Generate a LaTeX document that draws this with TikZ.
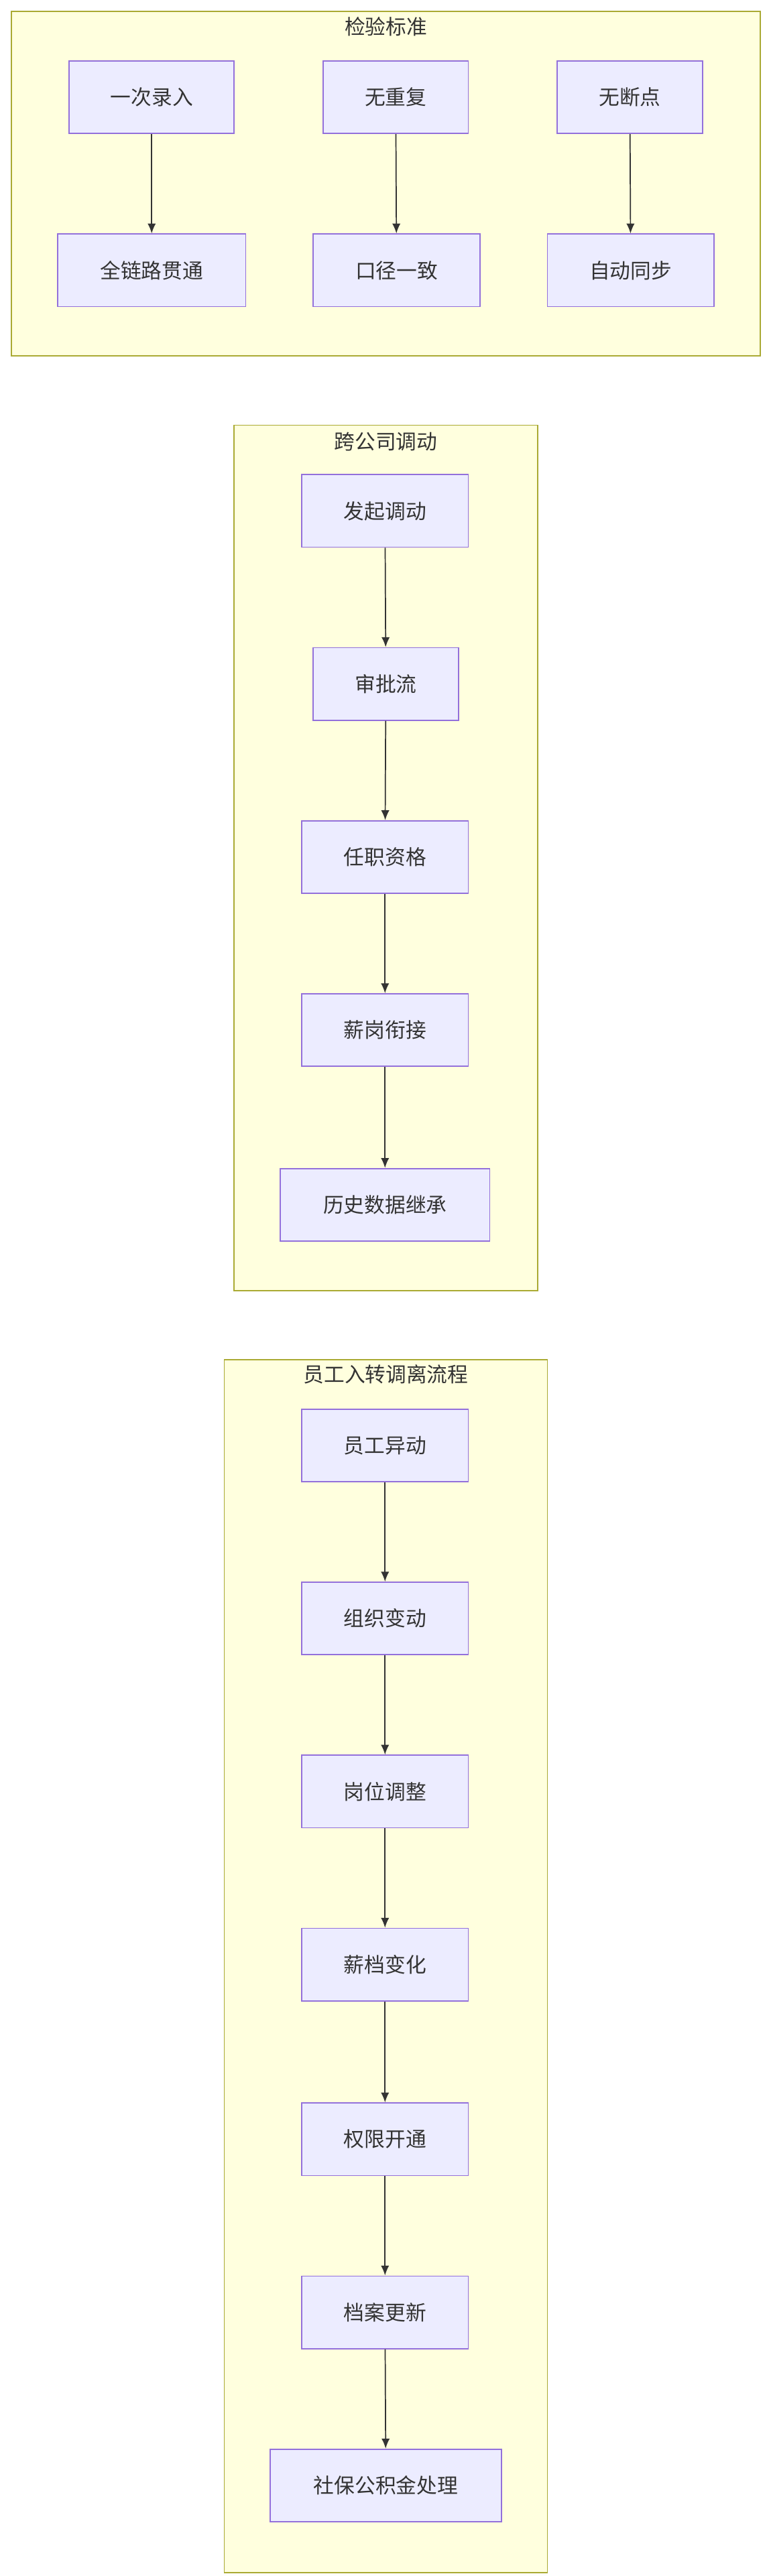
\documentclass[tikz,border=0pt]{standalone}
\usepackage{fontspec}
\setmainfont{Noto Sans CJK SC}
\usetikzlibrary{arrows.meta}
\definecolor{nf}{HTML}{ECECFF}\definecolor{ns}{HTML}{9370DB}
\definecolor{cf}{HTML}{FFFFDE}\definecolor{cs}{HTML}{AAAA33}
\definecolor{tx}{HTML}{333333}
\begin{document}
\begin{tikzpicture}[x=1pt,y=-1pt,
  cl/.style={fill=cf,draw=cs,line width=0.7pt},
  ttl/.style={text=tx,font=\fontsize{12.5}{14}\selectfont,anchor=center},
  nd/.style={fill=nf,draw=ns,line width=0.7pt,text=tx,font=\fontsize{12.5}{14}\selectfont},
  ar/.style={draw=tx,line width=0.7pt,-{Latex[length=6pt,width=5pt]}}]
\useasboundingbox (0,0) rectangle (466,1563);
\newcommand\bx[5]{\node[nd,minimum width=#3-#2,minimum height=44,inner sep=0pt] (#1) at ({(#2+#3)/2},#4+22) {#5};}
% frame 1
\draw[cl] (7,7) rectangle (461,216);
\node[ttl] (t1) at (234,16) {检验标准};
\bx{a1}{42}{142}{37}{一次录入}
\bx{b1}{196}{284}{37}{无重复}
\bx{c1}{338}{426}{37}{无断点}
\bx{a2}{35}{149}{142}{全链路贯通}
\bx{b2}{190}{291}{142}{口径一致}
\bx{c2}{332}{433}{142}{自动同步}
\draw[ar] (a1) -- (a2);
\draw[ar] (b1) -- (b2);
\draw[ar] (c1) -- (c2);
% frame 2
\draw[cl] (142,258) rectangle (326,783);
\node[ttl] (t2) at (234,268) {跨公司调动};
\bx{d1}{183}{284}{288}{发起调动}
\bx{d2}{190}{278}{393}{审批流}
\bx{d3}{183}{284}{498}{任职资格}
\bx{d4}{183}{284}{603}{薪岗衔接}
\bx{d5}{170}{297}{709}{历史数据继承}
\foreach \i/\j in {d1/d2,d2/d3,d3/d4,d4/d5} \draw[ar] (\i) -- (\j);
% frame 3
\draw[cl] (136,825) rectangle (332,1561);
\node[ttl] (t3) at (234,834) {员工入转调离流程};
\bx{e1}{183}{284}{855}{员工异动}
\bx{e2}{183}{284}{960}{组织变动}
\bx{e3}{183}{284}{1065}{岗位调整}
\bx{e4}{183}{284}{1170}{薪档变化}
\bx{e5}{183}{284}{1276}{权限开通}
\bx{e6}{183}{284}{1381}{档案更新}
\bx{e7}{164}{304}{1486}{社保公积金处理}
\foreach \i/\j in {e1/e2,e2/e3,e3/e4,e4/e5,e5/e6,e6/e7} \draw[ar] (\i) -- (\j);
\end{tikzpicture}
\end{document}
